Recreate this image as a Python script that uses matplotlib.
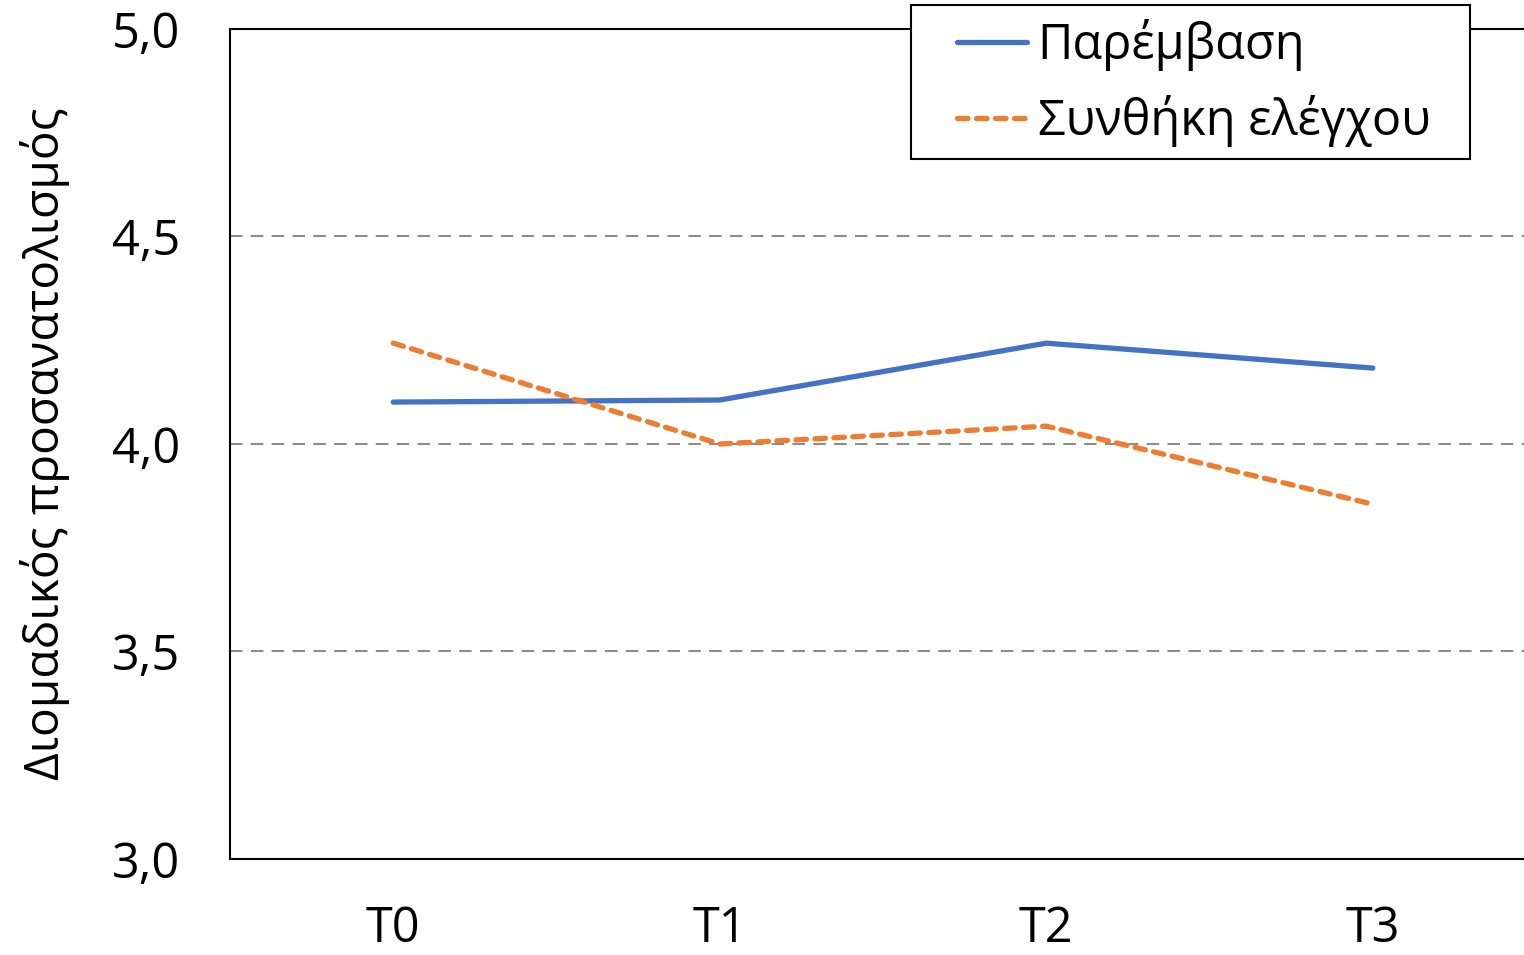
import matplotlib
matplotlib.use("Agg")
import matplotlib.pyplot as plt
from matplotlib.patches import Rectangle

plt.rcParams['font.family'] = ['Open Sans', 'DejaVu Sans']

categories = ["T0", "T1", "T2", "T3"]
intervention = [4.101, 4.106, 4.243, 4.183]
control = [4.243, 4.000, 4.043, 3.855]
yticks = [3.0, 3.5, 4.0, 4.5, 5.0]
ytick_labels = ["3,0", "3,5", "4,0", "4,5", "5,0"]
series_names = ["Παρέμβαση", "Συνθήκη ελέγχου"]
ylabel = "Διομαδικός προσανατολισμός"

W, H = 1524, 955
fig = plt.figure(figsize=(W/100, H/100), dpi=100)
ax = fig.add_axes([230/W, 96/H, 1306/W, 830/H])

x = list(range(len(categories)))
ax.plot(x, intervention, color="#4472C4", lw=3.8, solid_capstyle="round", label=series_names[0], zorder=3)
ax.plot(x, control, color="#ED7D31", lw=3.8, ls=(0, (2.0, 1.6)), dash_capstyle="round", label=series_names[1], zorder=3)

ax.set_xlim(-0.5, 3.5)
ax.set_ylim(3.0, 5.0)
ax.set_xticks(x)
ax.set_xticklabels(categories)
ax.set_yticks(yticks)
ax.set_yticklabels(ytick_labels)
ax.tick_params(axis='both', length=0, labelsize=35)
ax.tick_params(axis='x', pad=33)
ax.tick_params(axis='y', pad=36)
for yv in yticks[1:-1]:
    ax.axhline(yv, color="#8c8c8c", lw=1.5, ls=(0, (6, 4)), zorder=1)
for s in ax.spines.values():
    s.set_color("black")
    s.set_linewidth(1.5)
ax.set_ylabel(ylabel, fontsize=34.5, labelpad=30)

# legend frame (white box with black border, partly above the axes)
fig.patches.append(Rectangle((911/W, 1 - 159/H), (1470-911)/W, (159-5)/H,
                             transform=fig.transFigure, facecolor="white",
                             edgecolor="black", lw=1.5, zorder=4))
leg = ax.legend(loc="upper left", bbox_to_anchor=(957/W, 1 - 19/H), bbox_transform=fig.transFigure,
                fontsize=35, frameon=False, handlelength=1.45,
                handletextpad=0.21, borderpad=0, labelspacing=0.5, borderaxespad=0)
leg.remove()
fig.add_artist(leg)
leg.set_zorder(5)

fig.savefig("out.png", dpi=100)
